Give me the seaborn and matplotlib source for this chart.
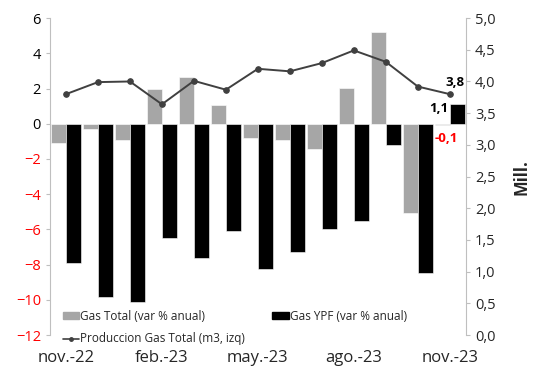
import numpy as np
import pandas as pd
import matplotlib
matplotlib.use('Agg')
import matplotlib.pyplot as plt
import matplotlib.patches as mpatches
from matplotlib.lines import Line2D
from matplotlib.ticker import FuncFormatter, MultipleLocator
import seaborn as sns

# ── Data ──────────────────────────────────────────────────────────────────────
months = ['nov.-22', 'dic.-22', 'ene.-23', 'feb.-23', 'mar.-23', 'abr.-23',
          'may.-23', 'jun.-23', 'jul.-23', 'ago.-23', 'sep.-23', 'oct.-23', 'nov.-23']
gas_total = [-1.1, -0.3, -0.9, 2.0, 2.65, 1.05, -0.8, -0.9, -1.45, 2.05, 5.2, -5.05, -0.1]
gas_ypf = [-7.9, -9.85, -10.1, -6.5, -7.6, -6.1, -8.25, -7.3, -5.95, -5.5, -1.2, -8.45, 1.1]
produccion = [3.80, 3.99, 4.00, 3.64, 4.01, 3.87, 4.20, 4.16, 4.29, 4.49, 4.31, 3.92, 3.80]
shown_ticks = ['nov.-22', 'feb.-23', 'may.-23', 'ago.-23', 'nov.-23']

GRAY = '#A6A6A6'
BLACK = '#000000'
LINE = '#404040'
RED = '#FF0000'

df = pd.DataFrame({
    'Mes': months * 2,
    'Valor': gas_total + gas_ypf,
    'Serie': ['Gas Total (var % anual)'] * len(months) + ['Gas YPF (var % anual)'] * len(months),
})

sns.set_style('white')
plt.rcParams['font.family'] = ['Open Sans', 'DejaVu Sans']

fig = plt.figure(figsize=(5.48, 3.69), dpi=100)
ax = fig.add_axes([0.0912, 0.092, 0.7588, 0.859])

sns.barplot(data=df, x='Mes', y='Valor', hue='Serie', order=months,
            palette=[GRAY, BLACK], width=0.94, ax=ax, legend=False,
            edgecolor='white', linewidth=0.4)
ax.set_ylim(-12, 6)
ax.set_xlim(-0.5, len(months) - 0.5)
ax.yaxis.set_major_locator(MultipleLocator(2))
ax.set_xlabel('')
ax.set_ylabel('')
ax.set_xticks([months.index(m) for m in shown_ticks])
ax.set_xticklabels(shown_ticks, fontsize=12)
ax.tick_params(axis='x', length=0, pad=11)
ax.tick_params(axis='y', labelsize=10.5, length=3, color='#BFBFBF', left=True)
for lbl in ax.get_yticklabels():
    lbl.set_color(RED if lbl.get_position()[1] < 0 else 'black')
for s in ['top', 'bottom']:
    ax.spines[s].set_visible(False)
ax.spines['left'].set_color('#BFBFBF')
ax.spines['right'].set_visible(False)

# ── Line on right axis ───────────────────────────────────────────────────────
ax2 = ax.twinx()
sns.lineplot(x=np.arange(len(months)), y=produccion, ax=ax2, color=LINE,
             marker='o', markersize=4, markeredgecolor=LINE, linewidth=1.4)
ax2.set_ylim(0, 5)
ax2.yaxis.set_major_locator(MultipleLocator(0.5))
ax2.yaxis.set_major_formatter(FuncFormatter(lambda v, p: f'{v:.1f}'.replace('.', ',')))
ax2.tick_params(axis='y', labelsize=10.5, length=3, color='#BFBFBF', right=True)
ax2.set_ylabel('Mill.', fontsize=12, fontweight='bold', labelpad=12)
for s in ['top', 'bottom', 'left']:
    ax2.spines[s].set_visible(False)
ax2.spines['right'].set_color('#BFBFBF')

# ── Annotations ──────────────────────────────────────────────────────────────
last = len(months) - 1
ax2.text(last + 0.15, produccion[-1] + 0.08, '3,8', ha='center', va='bottom',
         fontsize=9.5, fontweight='bold', color='black')
ax.text(last - 0.06, 0.87, '1,1', ha='right', va='center',
        fontsize=9.5, fontweight='bold', color='black')
ax.text(last - 0.12, -0.85, '-0,1', ha='center', va='center',
        fontsize=9.5, fontweight='bold', color=RED)

# ── Legend ───────────────────────────────────────────────────────────────────
h1 = mpatches.Patch(color=GRAY, label='Gas Total (var % anual)')
h2 = mpatches.Patch(color=BLACK, label='Gas YPF (var % anual)')
h3 = Line2D([], [], color=LINE, marker='o', markersize=2.5, linewidth=1.2,
            label='Produccion Gas Total (m3, izq)')
ax.legend(handles=[h1, h3, h2], ncol=2, loc='lower left', bbox_to_anchor=(0.005, -0.066),
          frameon=False, fontsize=8.5, handlelength=1.4, handleheight=0.5,
          handletextpad=0.1, columnspacing=2.3, labelspacing=0.8)

fig.savefig('out.png', dpi=100)
